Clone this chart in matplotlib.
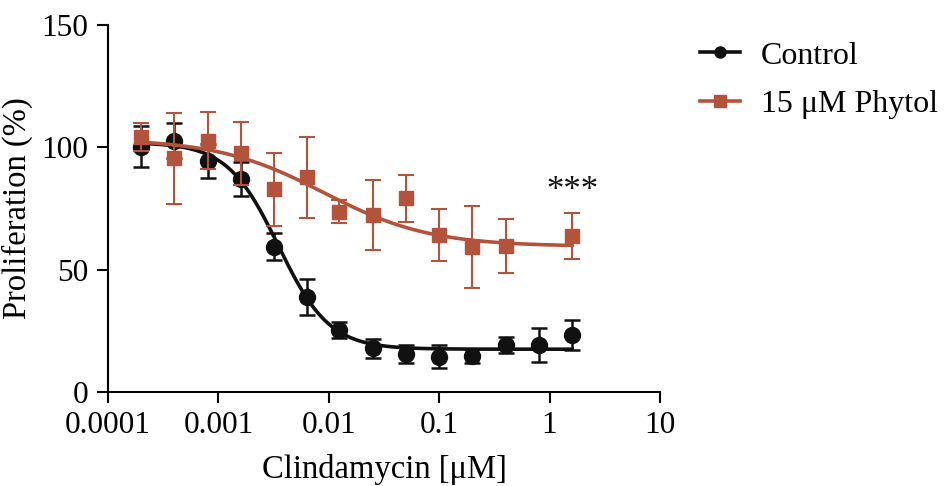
import matplotlib.pyplot as plt
import numpy as np

plt.rcParams['font.family'] = ['Liberation Serif', 'DejaVu Serif']

# concentrations (uM)
conc = [0.0002, 0.0004, 0.0008, 0.0016, 0.0032, 0.0064, 0.0125, 0.025, 0.05, 0.1, 0.2, 0.4, 0.8, 1.6]
# control
ctrl_mean = [100.3, 102.7, 94.4, 87.0, 59.4, 38.9, 25.3, 17.8, 15.5, 14.4, 14.7, 19.2, 19.2, 23.3]
ctrl_err = [8.5, 7.2, 7.1, 6.9, 5.6, 7.4, 3.2, 3.7, 3.7, 4.7, 3.0, 3.1, 7.1, 6.1]
# 15 uM phytol (no point at 0.8)
phy_conc = [0.0002, 0.0004, 0.0008, 0.0016, 0.0032, 0.0064, 0.0125, 0.025, 0.05, 0.1, 0.2, 0.4, 1.6]
phy_mean = [104.1, 95.5, 102.7, 97.5, 82.8, 87.7, 73.7, 72.3, 79.1, 64.2, 59.4, 59.7, 63.8]
phy_err = [5.7, 18.5, 11.6, 12.8, 15.0, 16.7, 4.8, 14.4, 9.6, 10.6, 16.7, 11.1, 9.5]

# fitted dose-response parameters (top, bottom, ic50, hill)
ctrl_fit = (102.0, 17.5, 0.0035, 1.88)
phy_fit = (103.5, 59.5, 0.009, 0.9)

black = '#111111'
red = '#B4533C'


def curve(x, top, bottom, ic50, hill):
    return bottom + (top - bottom) / (1 + (x / ic50) ** hill)


fig = plt.figure(figsize=(9.44, 4.86), dpi=100)
ax = fig.add_axes([0.1144, 0.1934, 0.5847, 0.7551])

xs = np.logspace(np.log10(conc[0]), np.log10(conc[-1]), 300)

# control
ax.plot(xs, curve(xs, *ctrl_fit), color=black, lw=2.6, zorder=2)
ax.errorbar(conc, ctrl_mean, yerr=ctrl_err, fmt='o', color=black, ms=11.5,
            elinewidth=1.8, capsize=6, capthick=1.8, zorder=3)

# phytol
ax.plot(xs, curve(xs, *phy_fit), color=red, lw=2.6, zorder=4)
ax.errorbar(phy_conc, phy_mean, yerr=phy_err, fmt='s', color=red, ms=10.5,
            elinewidth=1.5, capsize=6, capthick=1.5, zorder=5)

ax.text(1.6, 82, '***', ha='center', va='center', fontsize=25, color=black)

ax.set_xscale('log')
ax.set_xlim(0.0001, 10)
ax.set_ylim(0, 150)
ax.set_yticks([0, 50, 100, 150])
ax.set_xticks([0.0001, 0.001, 0.01, 0.1, 1, 10])
ax.set_xticklabels(['0.0001', '0.001', '0.01', '0.1', '1', '10'])
ax.minorticks_off()

for s in ['top', 'right']:
    ax.spines[s].set_visible(False)
for s in ['left', 'bottom']:
    ax.spines[s].set_linewidth(1.5)
ax.tick_params(axis='both', direction='out', length=8, width=1.5, labelsize=22.5, pad=6)

ax.set_xlabel('Clindamycin [μM]', fontsize=23.5, labelpad=10)
ax.set_ylabel('Proliferation (%)', fontsize=23.5, labelpad=6)

# legend
h1, = ax.plot([], [], '-o', color=black, lw=2.6, ms=8)
h2, = ax.plot([], [], '-s', color=red, lw=2.6, ms=9)
fig.legend([h1, h2], ['Control', '15 μM Phytol'], loc='upper left',
           bbox_to_anchor=(0.7245, 0.948), frameon=False, fontsize=23,
           borderpad=0, handlelength=1.25, handletextpad=0.65, labelspacing=0.6)

fig.savefig('out.png', dpi=100)
